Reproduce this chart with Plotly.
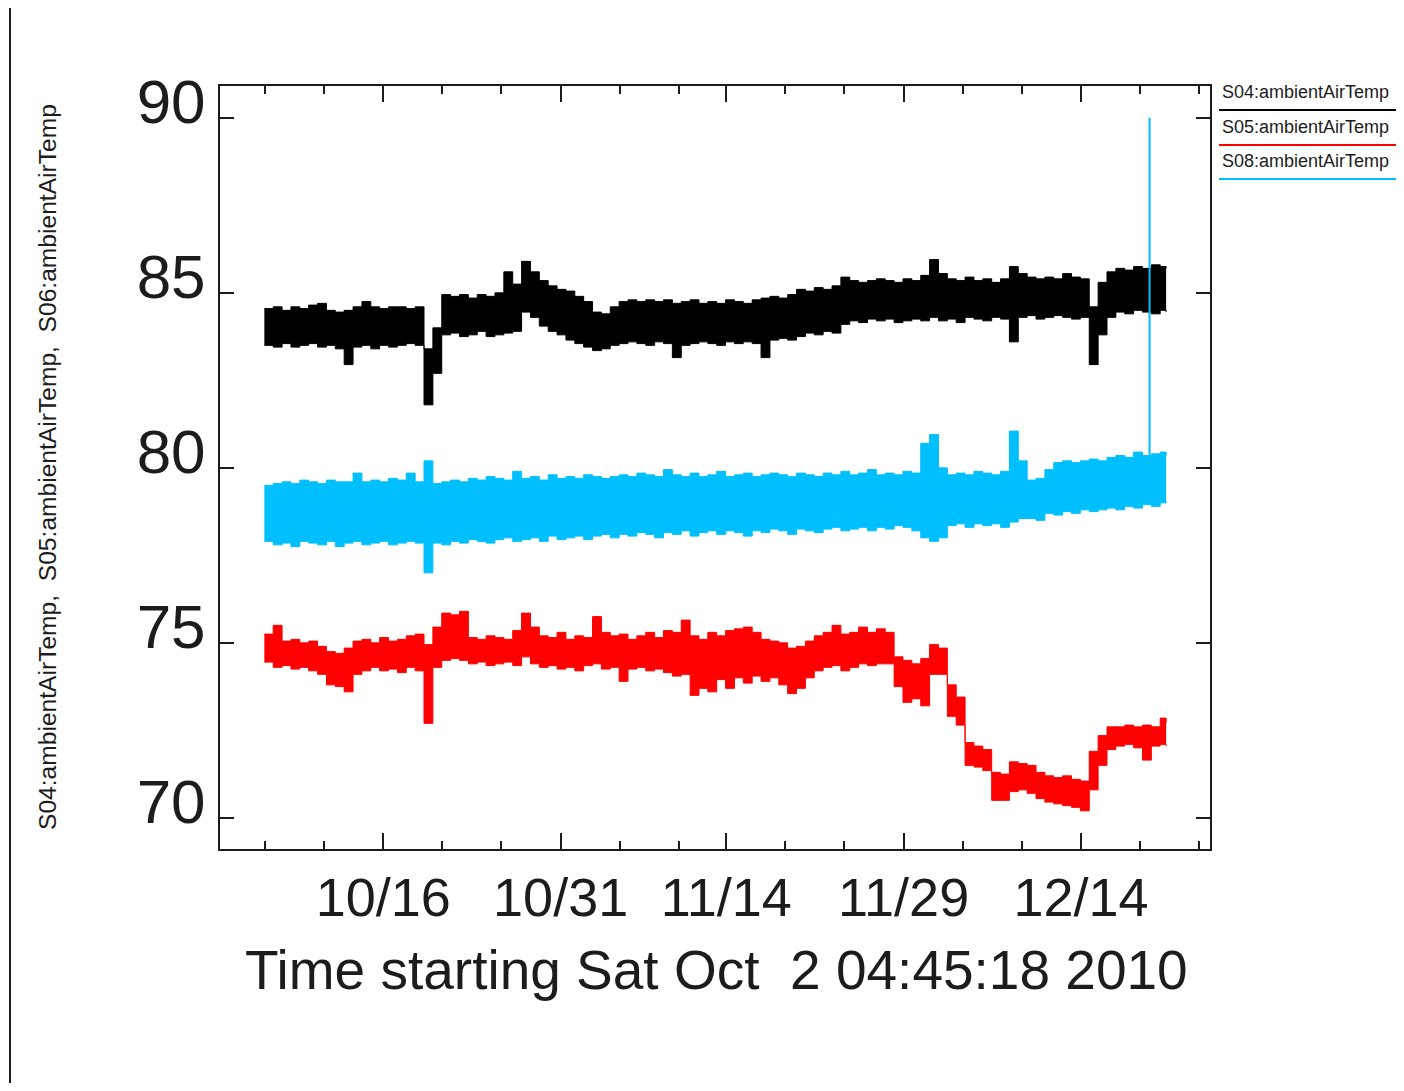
import pandas as pd
import plotly.graph_objects as go

# ---------------- data ----------------
START = pd.Timestamp("2010-10-02 04:45:18")

# sample times, days after START
days = [3.75, 4.5, 5.25, 6.0, 6.75, 7.5, 8.25, 9.0, 9.75, 10.5, 11.25, 12.0, 12.75, 13.5,
        14.25, 15.0, 15.75, 16.5, 17.25, 18.0, 18.75, 19.5, 20.25, 21.0, 21.75, 22.5, 23.25,
        24.0, 24.75, 25.5, 26.25, 27.0, 27.75, 28.5, 29.25, 30.0, 30.75, 31.5, 32.25, 33.0,
        33.75, 34.5, 35.25, 36.0, 36.75, 37.5, 38.25, 39.0, 39.75, 40.5, 41.25, 42.0, 42.75,
        43.5, 44.25, 45.0, 45.75, 46.5, 47.25, 48.0, 48.75, 49.5, 50.25, 51.0, 51.75, 52.5,
        53.25, 54.0, 54.75, 55.5, 56.25, 57.0, 57.75, 58.5, 59.25, 60.0, 60.75, 61.5, 62.25,
        63.0, 63.75, 64.5, 65.25, 66.0, 66.75, 67.5, 68.25, 69.0, 69.75, 70.5, 71.25, 72.0,
        72.75, 73.5, 74.25, 75.0, 75.75, 76.5, 77.25, 78.0, 78.75, 79.5, 80.0]

# S04 (black) upper / lower envelope of the noisy trace
s04_hi = [84.55, 84.6, 84.5, 84.6, 84.55, 84.65, 84.7, 84.5, 84.45, 84.5, 84.6, 84.75, 84.6,
          84.55, 84.6, 84.6, 84.55, 84.6, 83.4, 84.0, 84.95, 84.9, 84.95, 84.85, 84.95, 84.9,
          85.0, 85.6, 85.25, 85.9, 85.6, 85.35, 85.2, 85.1, 85.05, 84.9, 84.75, 84.45, 84.4,
          84.6, 84.75, 84.8, 84.75, 84.8, 84.75, 84.8, 84.7, 84.75, 84.8, 84.7, 84.75, 84.7,
          84.8, 84.75, 84.7, 84.8, 84.85, 84.9, 84.85, 84.95, 85.1, 85.05, 85.15, 85.1, 85.2,
          85.45, 85.35, 85.3, 85.35, 85.4, 85.35, 85.3, 85.4, 85.35, 85.5, 85.95, 85.55, 85.4,
          85.35, 85.45, 85.35, 85.4, 85.3, 85.4, 85.75, 85.55, 85.45, 85.4, 85.45, 85.4, 85.55,
          85.45, 85.4, 84.6, 85.3, 85.6, 85.7, 85.65, 85.75, 85.7, 85.8, 85.75, 85.7]
s04_lo = [83.5, 83.45, 83.55, 83.45, 83.5, 83.55, 83.45, 83.5, 83.4, 82.95, 83.45, 83.5, 83.4,
          83.5, 83.45, 83.5, 83.55, 83.5, 81.8, 82.7, 83.8, 83.85, 83.75, 83.8, 83.9, 83.75,
          83.8, 83.85, 83.9, 84.45, 84.3, 84.05, 83.9, 83.8, 83.65, 83.55, 83.45, 83.35, 83.4,
          83.5, 83.55, 83.6, 83.55, 83.5, 83.6, 83.55, 83.15, 83.5, 83.55, 83.6, 83.55, 83.5,
          83.6, 83.55, 83.6, 83.55, 83.15, 83.65, 83.7, 83.65, 83.75, 83.85, 83.8, 83.9, 83.85,
          84.1, 84.2, 84.15, 84.25, 84.2, 84.25, 84.15, 84.2, 84.25, 84.2, 84.3, 84.2, 84.25,
          84.15, 84.3, 84.25, 84.2, 84.3, 84.25, 83.6, 84.3, 84.35, 84.25, 84.3, 84.35, 84.3,
          84.25, 84.3, 82.95, 83.8, 84.3, 84.45, 84.4, 84.5, 84.45, 84.4, 84.5, 84.45]

# S05 (red)
s05_hi = [75.25, 75.5, 75.05, 75.1, 75.0, 75.05, 74.9, 74.75, 74.7, 74.85, 75.05, 75.1, 75.0,
          75.15, 75.05, 75.1, 75.2, 75.25, 74.95, 75.45, 75.85, 75.8, 75.9, 75.15, 75.1, 75.2,
          75.15, 75.1, 75.35, 75.85, 75.45, 75.2, 75.15, 75.3, 75.1, 75.2, 75.15, 75.75, 75.3,
          75.2, 75.25, 75.1, 75.2, 75.3, 75.15, 75.35, 75.3, 75.65, 75.2, 75.1, 75.3, 75.2,
          75.35, 75.4, 75.45, 75.3, 75.1, 75.05, 75.0, 74.85, 74.9, 75.05, 75.2, 75.3, 75.5,
          75.25, 75.3, 75.45, 75.3, 75.4, 75.3, 74.6, 74.5, 74.4, 74.55, 74.95, 74.85, 73.8,
          73.45, 72.15, 72.05, 71.95, 71.3, 71.25, 71.6, 71.55, 71.5, 71.3, 71.2, 71.15, 71.2,
          71.1, 71.05, 71.9, 72.35, 72.6, 72.6, 72.65, 72.6, 72.65, 72.6, 72.85, 72.7]
s05_lo = [74.45, 74.3, 74.35, 74.25, 74.3, 74.2, 74.1, 73.8, 73.75, 73.6, 74.1, 74.2, 74.3,
          74.2, 74.25, 74.15, 74.3, 74.2, 72.7, 74.3, 74.5, 74.55, 74.5, 74.4, 74.45, 74.35,
          74.4, 74.45, 74.35, 74.6, 74.4, 74.3, 74.35, 74.25, 74.3, 74.2, 74.35, 74.4, 74.25,
          74.3, 73.9, 74.25, 74.3, 74.2, 74.25, 74.15, 74.05, 74.1, 73.5, 73.7, 73.6, 73.95,
          73.7, 74.0, 73.85, 74.05, 73.9, 74.0, 73.8, 73.55, 73.7, 74.0, 74.2, 74.3, 74.35,
          74.2, 74.3, 74.4, 74.35, 74.4, 74.4, 73.75, 73.3, 73.4, 73.2, 74.1, 74.1, 72.9,
          72.65, 71.5, 71.45, 71.35, 70.5, 70.5, 70.75, 70.8, 70.7, 70.55, 70.45, 70.4, 70.35,
          70.3, 70.2, 70.8, 71.5, 71.95, 72.05, 72.1, 72.0, 71.65, 72.05, 72.1, 72.05]

# S06 (cyan)
s06_hi = [79.5, 79.55, 79.6, 79.55, 79.65, 79.6, 79.55, 79.65, 79.6, 79.6, 79.85, 79.6, 79.65,
          79.6, 79.7, 79.65, 79.85, 79.6, 80.2, 79.55, 79.6, 79.65, 79.6, 79.7, 79.65, 79.75,
          79.7, 79.65, 79.9, 79.7, 79.75, 79.65, 79.8, 79.7, 79.75, 79.7, 79.8, 79.75, 79.7,
          79.75, 79.8, 79.75, 79.85, 79.8, 79.75, 79.95, 79.8, 79.75, 79.85, 79.75, 79.8, 79.9,
          79.75, 79.8, 79.85, 79.75, 79.8, 79.85, 79.8, 79.75, 79.85, 79.8, 79.75, 79.85, 79.8,
          79.9, 79.8, 79.85, 79.95, 79.8, 79.85, 79.8, 79.9, 79.85, 80.7, 80.95, 80.0, 79.8,
          79.85, 79.8, 79.9, 79.85, 79.8, 79.9, 81.05, 80.2, 79.65, 79.7, 79.95, 80.15, 80.2,
          80.15, 80.2, 80.25, 80.2, 80.3, 80.35, 80.3, 80.45, 80.35, 80.4, 80.45, 80.35]
s06_lo = [77.9, 77.8, 77.85, 77.75, 77.9, 77.85, 77.8, 77.9, 77.75, 77.85, 77.9, 77.8, 77.85,
          77.9, 77.8, 77.85, 77.9, 77.85, 77.0, 77.85, 77.8, 77.9, 77.85, 77.95, 77.9, 77.85,
          77.95, 78.0, 77.9, 77.95, 78.0, 77.9, 78.05, 77.95, 78.0, 78.05, 77.95, 78.05, 78.1,
          78.0, 78.1, 78.05, 78.15, 78.1, 78.0, 78.15, 78.1, 78.2, 78.05, 78.15, 78.2, 78.1,
          78.2, 78.15, 78.05, 78.2, 78.15, 78.25, 78.2, 78.1, 78.25, 78.2, 78.15, 78.25, 78.3,
          78.2, 78.25, 78.3, 78.2, 78.3, 78.25, 78.35, 78.3, 78.2, 78.0, 77.9, 78.0, 78.35,
          78.4, 78.3, 78.4, 78.35, 78.4, 78.3, 78.45, 78.55, 78.55, 78.5, 78.7, 78.65, 78.75,
          78.7, 78.8, 78.75, 78.8, 78.85, 78.8, 78.9, 78.85, 78.95, 78.9, 79.0, 79.05]

# single S06 spike near the end
spike_day = [78.6, 78.6]
spike_val = [80.3, 90.0]

series_names = ["S04:ambientAirTemp", "S05:ambientAirTemp", "S08:ambientAirTemp"]
y_title = "S04:ambientAirTemp,\u00a0 S05:ambientAirTemp,\u00a0 S06:ambientAirTemp"
x_title = "Time starting Sat Oct\u00a0 2 04:45:18 2010"

major_dates = ["2010-10-16", "2010-10-31", "2010-11-14", "2010-11-29", "2010-12-14"]
major_text = ["10/16", "10/31", "11/14", "11/29", "12/14"]
minor_dates = ["2010-10-06", "2010-10-11", "2010-10-21", "2010-10-26", "2010-11-05",
               "2010-11-10", "2010-11-19", "2010-11-24", "2010-12-04", "2010-12-09",
               "2010-12-19", "2010-12-24"]
y_ticks = [70, 75, 80, 85, 90]

# ---------------- figure ----------------
OFF = 8                     # page body margin of the html page
W, H = 1404 - 2 * OFF, 1091 - 2 * OFF
# plot area in screen pixels -> figure pixels
L, R, T, B = 220 - OFF, 1210 - OFF, 86 - OFF, 849 - OFF


def px_x(p):
    """screen pixel x -> paper coordinate"""
    return (p - OFF - L) / (R - L)


def px_y(p):
    """screen pixel y -> paper coordinate"""
    return (B - (p - OFF)) / (B - T)


INK = "#1c1c1c"
colors = ["#000000", "#ff0000", "#00bfff"]
FONT = "Liberation Sans, Arial, sans-serif"

x = START + pd.to_timedelta(days, unit="D")
fig = go.Figure()
for (hi, lo), col in zip([(s04_hi, s04_lo), (s05_hi, s05_lo), (s06_hi, s06_lo)], colors):
    fig.add_trace(go.Scatter(x=x, y=lo, mode="lines", line=dict(color=col, width=1, shape="hv"),
                             hoverinfo="skip"))
    fig.add_trace(go.Scatter(x=x, y=hi, mode="lines", line=dict(color=col, width=1, shape="hv"),
                             fill="tonexty", fillcolor=col, hoverinfo="skip"))

fig.add_trace(go.Scatter(x=START + pd.to_timedelta(spike_day, unit="D"), y=spike_val,
                         mode="lines", line=dict(color=colors[2], width=2), hoverinfo="skip"))

x_end = START + pd.Timedelta(days=83.71)

fig.update_layout(
    width=W, height=H, autosize=False,
    margin=dict(l=L, r=W - R, t=T, b=H - B, pad=0),
    paper_bgcolor="white", plot_bgcolor="white",
    showlegend=False,
    font=dict(family=FONT, color=INK),
    xaxis=dict(
        type="date", range=[START, x_end],
        tickmode="array", tickvals=major_dates, ticktext=major_text,
        ticks="inside", ticklen=16, tickwidth=2, tickcolor=INK,
        mirror="allticks", showline=True, linewidth=2, linecolor=INK,
        showgrid=False, zeroline=False,
        tickfont=dict(size=54, family=FONT, color=INK),
        ticklabelstandoff=0,
        minor=dict(tickmode="array", tickvals=minor_dates, ticks="inside",
                   ticklen=8, tickwidth=2, tickcolor=INK, showgrid=False),
    ),
    yaxis=dict(
        range=[69.11, 90.91],
        tickmode="array", tickvals=y_ticks,
        ticks="inside", ticklen=14, tickwidth=2, tickcolor=INK,
        mirror="allticks", showline=True, linewidth=2, linecolor=INK,
        showgrid=False, zeroline=False,
        tickfont=dict(size=62, family=FONT, color=INK),
        ticklabelstandoff=0, ticklabelshift=-17,
    ),
)

ann = [
    dict(text=x_title, x=px_x(716), y=px_y(970), xref="paper", yref="paper",
         xanchor="center", yanchor="middle", showarrow=False,
         font=dict(size=55, family=FONT, color=INK)),
    dict(text=y_title, x=px_x(47), y=px_y(467), xref="paper", yref="paper",
         xanchor="center", yanchor="middle", showarrow=False, textangle=-90,
         font=dict(size=24.6, family=FONT, color=INK)),
]
for name, ty in zip(series_names, [92, 127, 161]):
    ann.append(dict(text=name, x=px_x(1220), y=px_y(ty), xref="paper", yref="paper",
                    xanchor="left", yanchor="middle", showarrow=False,
                    font=dict(size=18, family=FONT, color=INK)))
fig.update_layout(annotations=ann)

shapes = [dict(type="line", xref="paper", yref="paper", x0=px_x(10), x1=px_x(10),
               y0=px_y(1100), y1=px_y(-10), line=dict(color=INK, width=2))]
for col, ly in zip(colors, [110, 145, 179]):
    shapes.append(dict(type="line", xref="paper", yref="paper", x0=px_x(1219), x1=px_x(1420),
                       y0=px_y(ly), y1=px_y(ly), line=dict(color=col, width=2)))
fig.update_layout(shapes=shapes)

fig.write_html("out.html")
